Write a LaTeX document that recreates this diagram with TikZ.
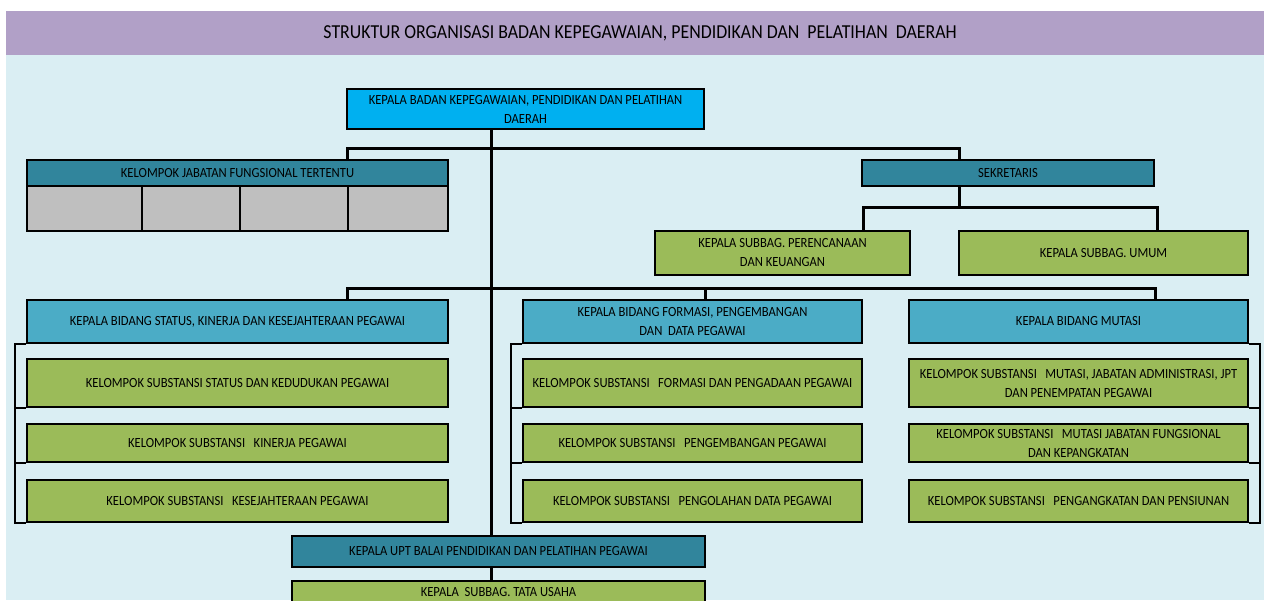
\documentclass[tikz,border=0pt]{standalone}
\usepackage{fontspec}
\setmainfont{Carlito}[FakeStretch=0.9]
\definecolor{bandpurple}{HTML}{B1A0C7}
\definecolor{pagecyan}{HTML}{DAEEF3}
\definecolor{headcyan}{HTML}{00B0F0}
\definecolor{darkteal}{HTML}{31859C}
\definecolor{bidblue}{HTML}{4BACC6}
\definecolor{subgreen}{HTML}{9BBB59}
\definecolor{cellgray}{HTML}{BFBFBF}

\begin{document}
\begin{tikzpicture}[x=1pt,y=-1pt]
\tikzstyle{box}=[draw=black,line width=2pt,inner sep=0pt,align=center,font=\fontsize{14}{19}\selectfont]
\tikzstyle{headbox}=[box,fill=headcyan]
\tikzstyle{tealbox}=[box,fill=darkteal]
\tikzstyle{bidbox}=[box,fill=bidblue,minimum height=43pt]
\tikzstyle{subbox}=[box,fill=subgreen]
\tikzstyle{cell}=[box,fill=cellgray,minimum height=45pt]
\tikzstyle{link}=[draw=black,line width=3pt]
\clip (0,0) rectangle (1264,600);
\fill[white] (0,0) rectangle (1264,600);
\fill[pagecyan] (6,55) rectangle (1264,600);
\fill[bandpurple] (6,11) rectangle (1264,55);
\node[font=\fontsize{19.8}{22}\selectfont] (title) at (640,33) {STRUKTUR ORGANISASI BADAN KEPEGAWAIAN, PENDIDIKAN DAN\ \ PELATIHAN\ \ DAERAH};

\node[headbox,minimum width=357pt,minimum height=40pt] (head) at (525.5,109) {KEPALA BADAN KEPEGAWAIAN, PENDIDIKAN DAN PELATIHAN\\DAERAH};

\node[tealbox,minimum width=421pt,minimum height=26pt] (kjft) at (237.5,173) {KELOMPOK JABATAN FUNGSIONAL TERTENTU};
\node[cell,minimum width=115pt] (cell1) at (84.5,208.5) {};
\node[cell,minimum width=98pt] (cell2) at (191,208.5) {};
\node[cell,minimum width=108pt] (cell3) at (294,208.5) {};
\node[cell,minimum width=100pt] (cell4) at (398,208.5) {};

\node[tealbox,minimum width=292pt,minimum height=26pt] (sek) at (1008,173) {SEKRETARIS};
\node[subbox,minimum width=255pt,minimum height=44pt] (perenc) at (782.5,253) {KEPALA SUBBAG. PERENCANAAN\\DAN KEUANGAN};
\node[subbox,minimum width=289pt,minimum height=44pt] (umum) at (1103.5,253) {KEPALA SUBBAG. UMUM};

\node[bidbox,minimum width=421pt] (bidA) at (237.5,321.5) {KEPALA BIDANG STATUS, KINERJA DAN KESEJAHTERAAN PEGAWAI};
\node[subbox,minimum width=421pt,minimum height=48pt] (ksA1) at (237.5,383) {KELOMPOK SUBSTANSI STATUS DAN KEDUDUKAN PEGAWAI};
\node[subbox,minimum width=421pt,minimum height=38pt] (ksA2) at (237.5,443) {KELOMPOK SUBSTANSI\ \ \ KINERJA PEGAWAI};
\node[subbox,minimum width=421pt,minimum height=42pt] (ksA3) at (237.5,501) {KELOMPOK SUBSTANSI\ \ \ KESEJAHTERAAN PEGAWAI};

\node[bidbox,minimum width=339pt] (bidB) at (692.5,321.5) {KEPALA BIDANG FORMASI, PENGEMBANGAN\\DAN\ \ DATA PEGAWAI};
\node[subbox,minimum width=339pt,minimum height=48pt] (ksB1) at (692.5,383) {KELOMPOK SUBSTANSI\ \ \ FORMASI DAN PENGADAAN PEGAWAI};
\node[subbox,minimum width=339pt,minimum height=38pt] (ksB2) at (692.5,443) {KELOMPOK SUBSTANSI\ \ \ PENGEMBANGAN PEGAWAI};
\node[subbox,minimum width=339pt,minimum height=42pt] (ksB3) at (692.5,501) {KELOMPOK SUBSTANSI\ \ \ PENGOLAHAN DATA PEGAWAI};

\node[bidbox,minimum width=339pt] (bidC) at (1078.5,321.5) {KEPALA BIDANG MUTASI};
\node[subbox,minimum width=339pt,minimum height=48pt] (ksC1) at (1078.5,383) {KELOMPOK SUBSTANSI\ \ \ MUTASI, JABATAN ADMINISTRASI, JPT\\DAN PENEMPATAN PEGAWAI};
\node[subbox,minimum width=339pt,minimum height=38pt] (ksC2) at (1078.5,443) {KELOMPOK SUBSTANSI\ \ \ MUTASI JABATAN FUNGSIONAL\\DAN KEPANGKATAN};
\node[subbox,minimum width=339pt,minimum height=42pt] (ksC3) at (1078.5,501) {KELOMPOK SUBSTANSI\ \ \ PENGANGKATAN DAN PENSIUNAN};

\node[tealbox,minimum width=413pt,minimum height=31pt] (upt) at (498.5,551.5) {KEPALA UPT BALAI PENDIDIKAN DAN PELATIHAN PEGAWAI};
\node[subbox,minimum width=413pt,minimum height=22pt] (tu) at (498.5,592) {KEPALA\ \ SUBBAG. TATA USAHA};

\coordinate (trunk) at (491,129);
\coordinate (c1) at (347,148);
\coordinate (c2) at (959,148);
\coordinate (s1) at (863,207);
\coordinate (s2) at (1157,207);
\coordinate (b1) at (347,288);
\coordinate (b2) at (705,288);
\coordinate (b3) at (1155,288);

\draw[link] (head.south -| trunk) -- (upt.north -| trunk);
\draw[link] (upt.south -| trunk) -- (tu.north -| trunk);
\draw[link] (kjft.north -| c1) |- (c2) -- (sek.north -| c2);
\draw[link] (sek.south -| c2) -- (c2 |- s1);
\draw[link] (perenc.north -| s1) |- (s2) -- (umum.north -| s2);
\draw[link] (bidA.north -| b1) |- (b3) -- (bidC.north -| b3);
\draw[link] (b2) -- (bidB.north -| b2);

\draw[line width=2pt] (bidA.south west) -- ++(-11,0) |- (ksA3.south west);
\draw[line width=2pt] (ksA1.south west) -- ++(-11,0);
\draw[line width=2pt] (ksA2.south west) -- ++(-11,0);
\draw[line width=2pt] (bidB.south west) -- ++(-11,0) |- (ksB3.south west);
\draw[line width=2pt] (ksB1.south west) -- ++(-11,0);
\draw[line width=2pt] (ksB2.south west) -- ++(-11,0);
\draw[line width=2pt] (bidC.south east) -- ++(11,0) |- (ksC3.south east);
\draw[line width=2pt] (ksC1.south east) -- ++(11,0);
\draw[line width=2pt] (ksC2.south east) -- ++(11,0);
\end{tikzpicture}
\end{document}
